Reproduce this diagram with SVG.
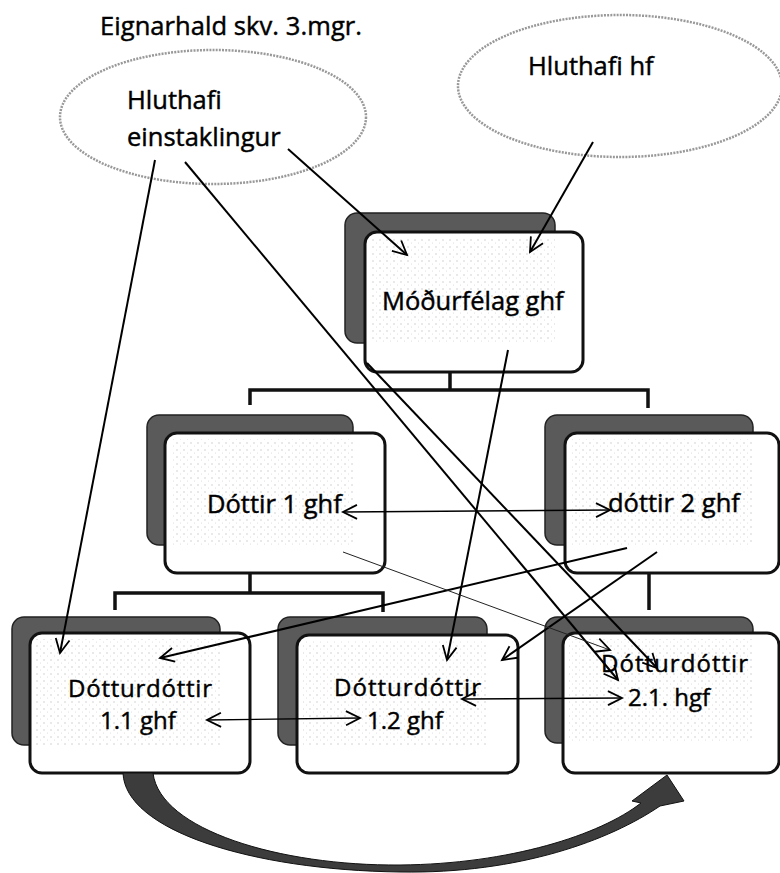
<svg xmlns="http://www.w3.org/2000/svg" width="780" height="873" viewBox="0 0 780 873">
<style>
text{font-family:"Open Sans","Noto Sans","Liberation Sans",sans-serif;fill:#000;stroke:#000;stroke-width:0.45}
.lbl{font-size:25.5px}
.lbl2{font-size:24px}
.ttl{font-size:25.5px}
.ell{fill:#fff;stroke:#999;stroke-width:2.5;stroke-dasharray:2 1.2}
.shadow{fill:#5a5a5a;stroke:#222;stroke-width:1.5}
.box{fill:#fff;stroke:#111;stroke-width:3}
.dots{fill:url(#dotpat);stroke:none}
.tree{fill:none;stroke:#111;stroke-width:3.5}
.con{fill:none;stroke:#000;stroke-width:2}
.thin{fill:none;stroke:#000;stroke-width:1.4}
.hair{fill:none;stroke:#222;stroke-width:1}
.curve{fill:#3c3c3c;stroke:#111;stroke-width:1}
</style>
<defs>
<pattern id="dotpat" width="7" height="7" patternUnits="userSpaceOnUse">
<rect width="7" height="7" fill="#fff"/>
<circle cx="2" cy="2" r="0.7" fill="#c4c4c4"/>
<circle cx="5.5" cy="5" r="0.5" fill="#d4d4d4"/>
</pattern>
<marker id="v" markerUnits="userSpaceOnUse" markerWidth="18" markerHeight="18" refX="15" refY="8" orient="auto-start-reverse" viewBox="0 0 18 16">
<path d="M1,1 L15,8 L1,15" fill="none" stroke="#000" stroke-width="1.8"/>
</marker>
</defs>

<g id="tree-lines">
<path class="tree" d="M450,372 V390 M250,405 V390 H648 V408"/>
<path class="tree" d="M250,573 V593 M115,610 V593 H383 V612"/>
<path class="tree" d="M649,573 V610"/>
</g>

<g id="title"><text class="ttl" x="100" y="35" textLength="262">Eignarhald skv. 3.mgr.</text></g>

<g id="hluthafi-einstaklingur">
<ellipse class="ell" cx="213" cy="117" rx="153" ry="67"/>
<text class="lbl" x="127" y="109">Hluthafi</text>
<text class="lbl" x="127" y="146">einstaklingur</text>
</g>

<g id="hluthafi-hf">
<ellipse class="ell" cx="620" cy="86" rx="162" ry="71"/>
<text class="lbl" x="528" y="75">Hluthafi hf</text>
</g>

<g id="modurfelag">
<rect class="shadow" x="345" y="213" width="210" height="130" rx="12"/>
<rect class="box" x="365" y="232" width="218" height="140" rx="12"/>
<rect class="dots" x="372" y="238" width="183" height="104"/>
<text class="lbl" x="382" y="310">Móðurfélag ghf</text>
</g>

<g id="dottir1">
<rect class="shadow" x="147" y="415" width="206" height="130" rx="12"/>
<rect class="box" x="165" y="433" width="220" height="140" rx="12"/>
<rect class="dots" x="171" y="439" width="182" height="106"/>
<text class="lbl" x="207" y="513">Dóttir 1 ghf</text>
</g>

<g id="dottir2">
<rect class="shadow" x="545" y="415" width="208" height="130" rx="12"/>
<rect class="box" x="565" y="433" width="214" height="140" rx="12"/>
<rect class="dots" x="571" y="439" width="182" height="106"/>
<text class="lbl" x="608" y="512">dóttir 2 ghf</text>
</g>

<g id="dd11">
<rect class="shadow" x="12" y="617" width="208" height="128" rx="12"/>
<rect class="box" x="30" y="633" width="220" height="140" rx="12"/>
<rect class="dots" x="36" y="639" width="184" height="106"/>
<text class="lbl2" x="68" y="697" textLength="144">Dótturdóttir</text>
<text class="lbl2" x="100" y="729">1.1 ghf</text>
</g>

<g id="dd12">
<rect class="shadow" x="278" y="617" width="209" height="128" rx="12"/>
<rect class="box" x="297" y="635" width="221" height="138" rx="12"/>
<rect class="dots" x="303" y="641" width="184" height="104"/>
<text class="lbl2" x="334" y="696" textLength="147">Dótturdóttir</text>
<text class="lbl2" x="367" y="729">1.2 ghf</text>
</g>

<g id="dd21">
<rect class="shadow" x="545" y="617" width="208" height="126" rx="12"/>
<rect class="box" x="563" y="633" width="216" height="140" rx="12"/>
<rect class="dots" x="569" y="639" width="184" height="104"/>
<text class="lbl2" x="601" y="672" textLength="147">Dótturdóttir</text>
<text class="lbl2" x="628" y="706">2.1. hgf</text>
</g>

<g id="connectors">
<line class="con" x1="288" y1="149" x2="407" y2="255" marker-end="url(#v)"/>
<line class="con" x1="593" y1="142" x2="530" y2="252" marker-end="url(#v)"/>
<line class="con" x1="155" y1="160" x2="60" y2="653" marker-end="url(#v)"/>
<line class="con" x1="185" y1="162" x2="618" y2="680" marker-end="url(#v)"/>
<line class="con" x1="367" y1="363" x2="657" y2="668" marker-end="url(#v)"/>
<line class="con" x1="508" y1="350" x2="447" y2="660" marker-end="url(#v)"/>
<line class="con" x1="627" y1="548" x2="160" y2="658" marker-end="url(#v)"/>
<line class="con" x1="657" y1="552" x2="502" y2="660" marker-end="url(#v)"/>
<line class="hair" x1="343" y1="552" x2="610" y2="650" marker-end="url(#v)"/>
<line class="thin" x1="343" y1="512" x2="610" y2="510" marker-start="url(#v)" marker-end="url(#v)"/>
<line class="thin" x1="207" y1="720" x2="360" y2="718" marker-start="url(#v)" marker-end="url(#v)"/>
<line class="thin" x1="462" y1="699" x2="622" y2="698" marker-start="url(#v)" marker-end="url(#v)"/>
</g>

<g id="curved-arrow">
<path class="curve" d="M123,773 C125,830 250,870 400,872 C520,874 610,840 660,806 L684,801 L667,775 L632,801 L641,803 C600,835 510,864 400,865 C280,866 160,830 153,773 Z"/>
</g>
</svg>
